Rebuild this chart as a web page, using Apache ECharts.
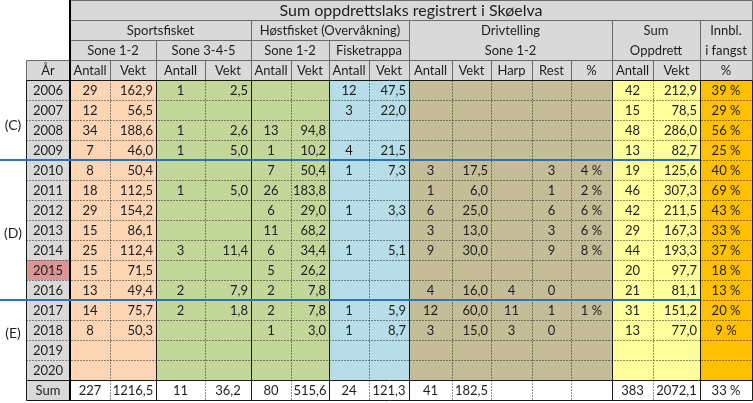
<!DOCTYPE html>
<html>
<head>
<meta charset="utf-8">
<script src="https://cdn.jsdelivr.net/npm/echarts@6/dist/echarts.min.js"></script>
<style>
  html, body { margin: 0; padding: 0; background: #fff; }
  #chart { width: 753px; height: 403px; }
</style>
</head>
<body>
<div id="chart"></div>
<script>
// ---- data ----
const title = 'Sum oppdrettslaks registrert i Skøelva';
const years = ['2006', '2007', '2008', '2009', '2010', '2011', '2012', '2013',
  '2014', '2015', '2016', '2017', '2018', '2019', '2020'];
const highlightYear = '2015';
const sumLabel = 'Sum';
const groupLabels = ['Sportsfisket', 'Høstfisket (Overvåkning)', 'Drivtelling', 'Sum', 'Innbl.'];
const zoneLabels = ['Sone 1-2', 'Sone 3-4-5', 'Sone 1-2', 'Fisketrappa', 'Sone 1-2', 'Oppdrett', 'i fangst'];
const columnLabels = ['År', 'Antall', 'Vekt', 'Antall', 'Vekt', 'Antall', 'Vekt', 'Antall', 'Vekt',
  'Antall', 'Vekt', 'Harp', 'Rest', '%', 'Antall', 'Vekt', '%'];
const periodLabels = ['(C)', '(D)', '(E)'];
const periodStarts = ['2006', '2010', '2017'];

const sportAntall = [29, 12, 34, 7, 8, 18, 29, 15, 25, 15, 13, 14, 8, null, null];
const sportVekt = [162.9, 56.5, 188.6, 46.0, 50.4, 112.5, 154.2, 86.1, 112.4, 71.5, 49.4, 75.7, 50.3, null, null];
const sone345Antall = [1, null, 1, 1, null, 1, null, null, 3, null, 2, 2, null, null, null];
const sone345Vekt = [2.5, null, 2.6, 5.0, null, 5.0, null, null, 11.4, null, 7.9, 1.8, null, null, null];
const hostAntall = [null, null, 13, 1, 7, 26, 6, 11, 6, 5, 2, 2, 1, null, null];
const hostVekt = [null, null, 94.8, 10.2, 50.4, 183.8, 29.0, 68.2, 34.4, 26.2, 7.8, 7.8, 3.0, null, null];
const trappAntall = [12, 3, null, 4, 1, null, 1, null, 1, null, null, 1, 1, null, null];
const trappVekt = [47.5, 22.0, null, 21.5, 7.3, null, 3.3, null, 5.1, null, null, 5.9, 8.7, null, null];
const drivAntall = [null, null, null, null, 3, 1, 6, 3, 9, null, 4, 12, 3, null, null];
const drivVekt = [null, null, null, null, 17.5, 6.0, 25.0, 13.0, 30.0, null, 16.0, 60.0, 15.0, null, null];
const drivHarp = [null, null, null, null, null, null, null, null, null, null, 4, 11, 3, null, null];
const drivRest = [null, null, null, null, 3, 1, 6, 3, 9, null, 0, 1, 0, null, null];
const drivPct = [null, null, null, null, 4, 2, 6, 6, 8, null, null, 1, null, null, null];
const sumAntall = [42, 15, 48, 13, 19, 46, 42, 29, 44, 20, 21, 31, 13, null, null];
const sumVekt = [212.9, 78.5, 286.0, 82.7, 125.6, 307.3, 211.5, 167.3, 193.3, 97.7, 81.1, 151.2, 77.0, null, null];
const innblPct = [39, 29, 56, 25, 40, 69, 43, 33, 37, 18, 13, 20, 9, null, null];
const totals = [227, 1216.5, 11, 36.2, 80, 515.6, 24, 121.3, 41, 182.5, null, null, null, 383, 2072.1, 33];

// ---- layout / style ----
const colWidths = [26, 44, 40, 46, 49, 46, 40, 38, 40, 40, 43, 39, 41, 39, 41, 41, 47, 52];
const edges = [0];
colWidths.forEach((w) => edges.push(edges[edges.length - 1] + w));
const HEAD_ROWS = 4;
const ROWS = HEAD_ROWS + years.length + 1;
const periodLabelOffset = [2.2, 3.6, 1.6]; // rows below period start

const C = {
  head: '#d9d9d9', peach: '#fcd5b4', green: '#c4d79b', blue: '#b7dee8',
  tan: '#c4bd97', yellow: '#ffff9c', orange: '#ffc000', pink: '#da9694', white: '#ffffff',
};
const FONT = '13px Lato, "Liberation Sans", sans-serif';

const dataCols = [
  { values: sportAntall, fmt: 'int', fill: C.peach },
  { values: sportVekt, fmt: 'dec', fill: C.peach },
  { values: sone345Antall, fmt: 'int', fill: C.green },
  { values: sone345Vekt, fmt: 'dec', fill: C.green },
  { values: hostAntall, fmt: 'int', fill: C.green },
  { values: hostVekt, fmt: 'dec', fill: C.green },
  { values: trappAntall, fmt: 'int', fill: C.blue },
  { values: trappVekt, fmt: 'dec', fill: C.blue },
  { values: drivAntall, fmt: 'int', fill: C.tan },
  { values: drivVekt, fmt: 'dec', fill: C.tan },
  { values: drivHarp, fmt: 'int', fill: C.tan },
  { values: drivRest, fmt: 'int', fill: C.tan },
  { values: drivPct, fmt: 'pct', fill: C.tan },
  { values: sumAntall, fmt: 'int', fill: C.yellow },
  { values: sumVekt, fmt: 'dec', fill: C.yellow },
  { values: innblPct, fmt: 'pct', fill: C.orange },
];
// edge indices where a solid group border sits
const solidEdges = [1, 2, 4, 6, 8, 10, 15, 17, 18];

function fmt(v, kind) {
  if (v == null) return '';
  if (kind === 'dec') return v.toFixed(1).replace('.', ',');
  if (kind === 'pct') return v + ' %';
  return String(v);
}

// ---- cells ----
const cells = [];
function cell(k0, k1, r0, r1, fill, text, align, font) {
  cells.push({ x0: edges[k0], x1: edges[k1], y0: r0, y1: r1, fill, text, align: align || 'center', font: font || FONT });
}

cell(2, 18, 0, 1, C.head, title, 'center', '16px Lato, "Liberation Sans", sans-serif');
cell(2, 6, 1, 2, C.head, groupLabels[0]);
cell(6, 10, 1, 2, C.head, groupLabels[1]);
cell(10, 15, 1, 2, C.head, groupLabels[2]);
cell(15, 17, 1, 2, C.head, groupLabels[3]);
cell(17, 18, 1, 2, C.head, groupLabels[4]);
const zoneSpans = [[2, 4], [4, 6], [6, 8], [8, 10], [10, 15], [15, 17], [17, 18]];
zoneSpans.forEach((s, i) => cell(s[0], s[1], 2, 3, C.head, zoneLabels[i]));
columnLabels.forEach((t, i) => cell(i + 1, i + 2, 3, 4, C.head, t));

years.forEach((y, i) => {
  const r = HEAD_ROWS + i;
  cell(1, 2, r, r + 1, y === highlightYear ? C.pink : C.head, y);
  dataCols.forEach((col, j) => {
    cell(j + 2, j + 3, r, r + 1, col.fill, fmt(col.values[i], col.fmt), col.fmt === 'dec' ? 'right' : 'center');
  });
});
const sumR = HEAD_ROWS + years.length;
cell(1, 2, sumR, sumR + 1, C.head, sumLabel);
dataCols.forEach((col, j) => cell(j + 2, j + 3, sumR, sumR + 1, C.white, fmt(totals[j], col.fmt)));

periodLabels.forEach((t, i) => {
  const r = HEAD_ROWS + years.indexOf(periodStarts[i]) + periodLabelOffset[i];
  cell(0, 1, r - 0.5, r + 0.5, null, t, 'center', '14px Lato, "Liberation Sans", sans-serif');
});

// ---- lines ----
const lines = [];
function seg(x0, y0, x1, y1, kind) { lines.push({ x0, y0, x1, y1, kind }); }

// header
seg(edges[2], 0, edges[18], 0, 'head');
seg(edges[2], 1, edges[18], 1, 'head');
seg(edges[2], 2, edges[10], 2, 'head');
seg(edges[1], 3, edges[18], 3, 'head');
[6, 10, 15, 17, 18].forEach((k) => seg(edges[k], 1, edges[k], 3, 'head'));
[4, 8].forEach((k) => seg(edges[k], 2, edges[k], 3, 'head'));
seg(edges[18], 0, edges[18], 1, 'head');
for (let k = 1; k <= 18; k++) seg(edges[k], 3, edges[k], 4, 'head');

// body horizontals
const blueRows = periodStarts.slice(1).map((p) => HEAD_ROWS + years.indexOf(p));
for (let r = HEAD_ROWS; r <= ROWS; r++) {
  if (r === HEAD_ROWS || r >= sumR) {
    seg(edges[1], r, edges[18], r, 'solid');
  } else if (blueRows.includes(r)) {
    seg(edges[17], r, edges[18], r, 'dot');
  } else {
    seg(edges[1], r, edges[18], r, 'dot');
  }
}
// body verticals
for (let k = 1; k <= 18; k++) {
  seg(edges[k], HEAD_ROWS, edges[k], ROWS, solidEdges.includes(k) ? 'solid' : 'dot');
}
seg(edges[2], 0, edges[2], ROWS, 'thick');
blueRows.forEach((r) => seg(edges[0], r, edges[17], r, 'blue'));

const lineStyles = {
  head: { stroke: '#6b6b6b', lineWidth: 1 },
  solid: { stroke: '#1a1a1a', lineWidth: 1 },
  thick: { stroke: '#000', lineWidth: 2 },
  dot: { stroke: '#222', lineWidth: 1, lineDash: [1, 2] },
  blue: { stroke: '#2e74b5', lineWidth: 2 },
};

// ---- chart ----
const chart = echarts.init(document.getElementById('chart'));

function renderCell(params, api) {
  const c = cells[params.dataIndex];
  const p0 = api.coord([c.x0, c.y0]);
  const p1 = api.coord([c.x1, c.y1]);
  const children = [];
  if (c.fill) {
    children.push({
      type: 'rect',
      shape: { x: p0[0], y: p0[1], width: p1[0] - p0[0], height: p1[1] - p0[1] },
      style: { fill: c.fill },
    });
  }
  if (c.text) {
    const tx = c.align === 'right' ? p1[0] - 3 : (p0[0] + p1[0]) / 2;
    children.push({
      type: 'text',
      x: tx,
      y: (p0[1] + p1[1]) / 2 + 1,
      style: { text: c.text, align: c.align, verticalAlign: 'middle', font: c.font, fill: '#1e1e1e' },
    });
  }
  return { type: 'group', children };
}

function renderLine(params, api) {
  const l = lines[params.dataIndex];
  const st = lineStyles[l.kind];
  const a = api.coord([l.x0, l.y0]);
  const b = api.coord([l.x1, l.y1]);
  const off = st.lineWidth % 2 === 1 ? 0.5 : 0;
  return {
    type: 'line',
    shape: { x1: a[0] + off, y1: a[1] + off, x2: b[0] + off, y2: b[1] + off },
    style: { stroke: st.stroke, lineWidth: st.lineWidth, lineDash: st.lineDash || null },
  };
}

chart.setOption({
  animation: false,
  grid: { left: 0, top: 0, width: edges[18], height: ROWS * 20 },
  xAxis: { type: 'value', min: 0, max: edges[18], show: false },
  yAxis: { type: 'value', min: 0, max: ROWS, inverse: true, show: false },
  series: [
    {
      type: 'custom',
      silent: true,
      clip: false,
      renderItem: renderCell,
      encode: { x: [0, 2], y: [1, 3] },
      data: cells.map((c) => [c.x0, c.y0, c.x1, c.y1]),
    },
    {
      type: 'custom',
      silent: true,
      clip: false,
      renderItem: renderLine,
      encode: { x: [0, 2], y: [1, 3] },
      data: lines.map((l) => [l.x0, l.y0, l.x1, l.y1]),
    },
  ],
});
</script>
</body>
</html>
